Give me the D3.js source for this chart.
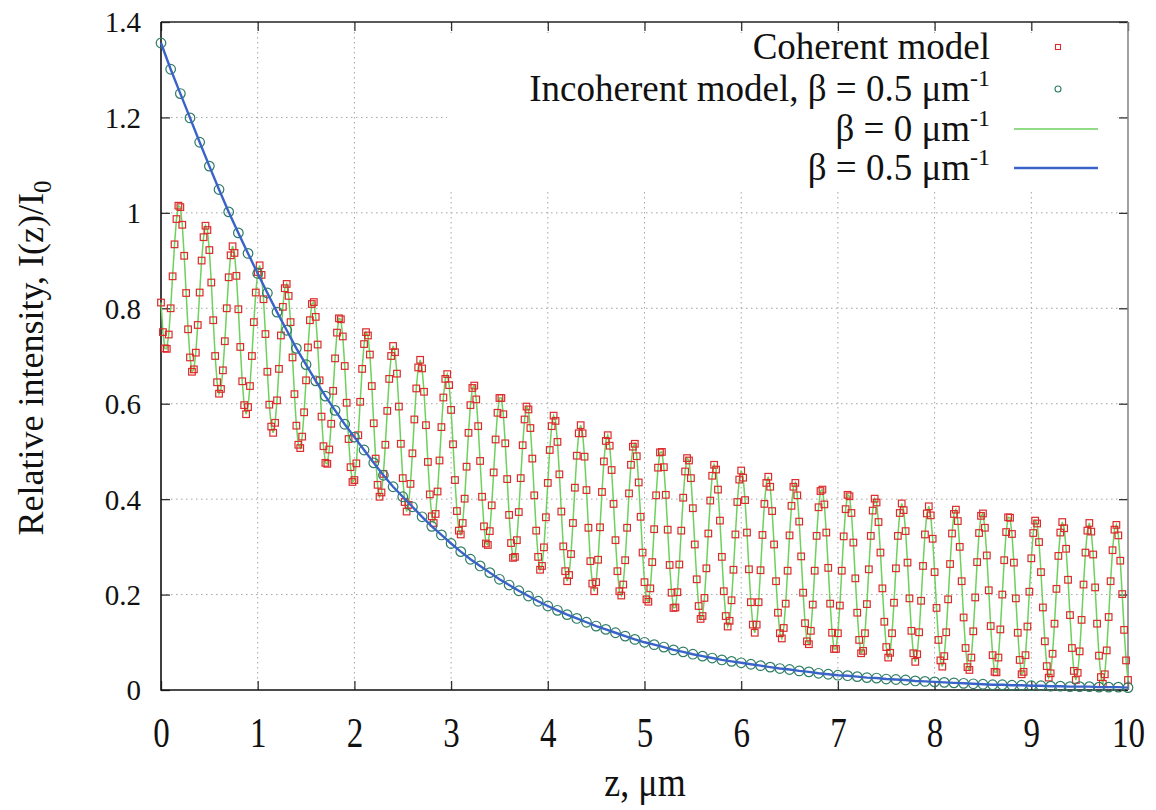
<!DOCTYPE html>
<html>
<head>
<meta charset="utf-8">
<script src="https://cdn.jsdelivr.net/npm/d3@7"></script>
<style>
  body { margin: 0; background: #fff; }
  svg { display: block; }
</style>
</head>
<body>
<svg id="chart" width="1156" height="810"></svg>
<script>
// Relative intensity vs depth: coherent (oscillating) and incoherent model

const X_TICKS = [0, 1, 2, 3, 4, 5, 6, 7, 8, 9, 10];
const Y_TICKS = [0, 0.2, 0.4, 0.6, 0.8, 1, 1.2, 1.4];

// coherent model, sampled every 0.02 um from z = 0 to z = 10
const COHERENT_DZ = 0.02;
const coherent = [
  0.812,0.750,0.716,
  0.715,0.745,0.800,0.867,0.934,0.987,1.015,1.012,0.975,0.910,0.832,0.756,0.697,0.667,
  0.672,0.707,0.765,0.833,0.900,0.949,0.973,0.964,0.922,0.854,0.775,0.700,0.645,0.621,
  0.631,0.670,0.731,0.800,0.865,0.911,0.930,0.916,0.868,0.798,0.719,0.647,0.597,0.578,
  0.593,0.637,0.700,0.771,0.833,0.876,0.890,0.870,0.819,0.746,0.667,0.598,0.552,
  0.539,0.560,0.607,0.673,0.743,0.803,0.842,0.851,0.826,0.771,0.697,0.620,0.554,0.514,
  0.507,0.531,0.582,0.649,0.718,0.775,0.809,0.813,0.782,0.724,0.649,0.573,0.511,0.476,
  0.474,0.504,0.558,0.627,0.695,0.749,0.779,0.777,0.741,0.679,0.602,0.526,0.467,0.436,
  0.440,0.475,0.534,0.604,0.673,0.725,0.750,0.743,0.703,0.637,0.559,0.485,0.430,0.405,
  0.414,0.453,0.514,0.585,0.652,0.700,0.721,0.708,0.663,0.594,0.516,0.444,0.394,0.374,
  0.388,0.432,0.496,0.567,0.632,0.676,0.692,0.674,0.625,0.555,0.478,0.410,0.364,
  0.350,0.369,0.416,0.481,0.551,0.613,0.652,0.662,0.639,0.587,0.515,0.440,0.375,0.334,
  0.326,0.350,0.401,0.468,0.539,0.597,0.633,0.638,0.609,0.553,0.480,0.405,0.343,0.307,
  0.304,0.333,0.387,0.456,0.525,0.581,0.612,0.612,0.578,0.517,0.442,0.367,0.308,0.277,
  0.279,0.314,0.373,0.444,0.513,0.567,0.594,0.588,0.549,0.485,0.408,0.334,0.279,0.252,
  0.260,0.299,0.362,0.434,0.503,0.553,0.575,0.564,0.520,0.452,0.374,0.301,0.249,0.228,
  0.241,0.285,0.350,0.424,0.491,0.538,0.555,0.538,0.489,0.419,0.340,0.270,0.223,
  0.207,0.226,0.273,0.341,0.415,0.479,0.522,0.534,0.512,0.461,0.390,0.314,0.249,0.207,
  0.198,0.221,0.272,0.340,0.412,0.472,0.510,0.516,0.490,0.435,0.363,0.288,0.226,0.190,
  0.185,0.213,0.268,0.337,0.408,0.466,0.498,0.499,0.467,0.409,0.336,0.262,0.204,0.172,
  0.173,0.205,0.263,0.334,0.403,0.458,0.486,0.481,0.444,0.381,0.305,0.232,0.176,0.149,
  0.155,0.193,0.255,0.328,0.397,0.449,0.472,0.462,0.420,0.355,0.279,0.207,0.155,0.133,
  0.145,0.188,0.252,0.326,0.394,0.441,0.460,0.445,0.398,0.330,0.253,0.184,0.137,
  0.120,0.137,0.184,0.251,0.325,0.390,0.434,0.447,0.426,0.375,0.305,0.228,0.162,0.119,
  0.108,0.130,0.181,0.250,0.324,0.386,0.426,0.434,0.408,0.353,0.280,0.204,0.140,0.102,
  0.096,0.124,0.179,0.250,0.323,0.383,0.417,0.420,0.389,0.330,0.256,0.181,0.120,0.086,
  0.086,0.119,0.177,0.250,0.322,0.379,0.409,0.406,0.371,0.309,0.234,0.162,0.105,0.077,
  0.082,0.119,0.180,0.253,0.323,0.376,0.401,0.393,0.352,0.288,0.213,0.143,0.090,0.068,
  0.078,0.119,0.183,0.255,0.323,0.371,0.391,0.377,0.333,0.267,0.192,0.124,0.077,0.059,
  0.075,0.121,0.187,0.260,0.326,0.370,0.385,0.366,0.317,0.247,0.172,0.105,0.062,
  0.049,0.071,0.121,0.190,0.264,0.328,0.369,0.378,0.354,0.300,0.228,0.152,0.088,0.048,
  0.042,0.068,0.123,0.194,0.268,0.329,0.365,0.370,0.340,0.282,0.209,0.134,0.073,0.038,
  0.037,0.068,0.127,0.200,0.272,0.331,0.362,0.361,0.327,0.267,0.192,0.120,0.063,0.033,
  0.038,0.073,0.133,0.206,0.276,0.329,0.355,0.349,0.310,0.247,0.173,0.102,0.050,0.026,
  0.035,0.076,0.139,0.212,0.281,0.330,0.352,0.339,0.296,0.231,0.157,0.088,0.040,0.021,
  0.036,0.081,0.147,0.221,0.288,0.334,0.350,0.332,0.284,0.215,0.139,0.072,0.027,
  0.013,0.033,0.083,0.153,0.228,0.293,0.336,0.346,0.324,0.271,0.201,0.126,0.062,0.021
];

// incoherent model (beta = 0.5 um^-1), sampled every 0.1 um
const INCOHERENT_DZ = 0.1;
const incoherent = [
  1.356,1.301,1.250,1.199,1.148,1.098,1.049,1.002,0.958,0.915,
  0.873,0.832,0.792,0.754,0.716,0.682,0.648,0.616,0.586,0.557,
  0.530,0.503,0.476,0.450,0.426,0.405,0.384,0.363,0.343,0.325,
  0.307,0.290,0.274,0.260,0.246,0.232,0.220,0.208,0.197,0.186,
  0.176,0.167,0.158,0.150,0.142,0.134,0.127,0.120,0.113,0.106,
  0.100,0.095,0.090,0.084,0.080,0.075,0.071,0.067,0.063,0.060,
  0.057,0.054,0.051,0.048,0.045,0.043,0.040,0.038,0.035,0.033,
  0.031,0.030,0.028,0.026,0.025,0.023,0.022,0.021,0.019,0.018,
  0.017,0.016,0.015,0.014,0.013,0.012,0.011,0.011,0.010,0.010,
  0.009,0.009,0.008,0.008,0.007,0.007,0.007,0.006,0.006,0.006,
  0.005
];

const LEGEND = [
  { label: 'Coherent model', sup: '', kind: 'square' },
  { label: 'Incoherent model, \u03b2 = 0.5 \u03bcm', sup: '-1', kind: 'circle' },
  { label: '\u03b2 = 0 \u03bcm', sup: '-1', kind: 'green' },
  { label: '\u03b2 = 0.5 \u03bcm', sup: '-1', kind: 'blue' }
];

const SERIF = "'Liberation Serif', 'DejaVu Serif', serif";
const RED = '#dc2b2b', TEAL = '#2f7d62', GREEN = '#6fd05e', BLUE = '#3a63c9';

const plot = { left: 161, right: 1128, top: 22, bottom: 690 };

const x = d3.scaleLinear().domain([0, 10]).range([plot.left, plot.right]);
const y = d3.scaleLinear().domain([0, 1.4]).range([plot.bottom, plot.top]);

const svg = d3.select('#chart');

// grid
const grid = svg.append('g').attr('class', 'grid')
    .attr('stroke', '#a4a4a4').attr('stroke-width', 1).attr('stroke-dasharray', '1.5,3.5');
for (const t of X_TICKS.slice(1, -1)) {
    grid.append('line').attr('x1', x(t)).attr('x2', x(t)).attr('y1', plot.top).attr('y2', plot.bottom);
}
for (const t of Y_TICKS.slice(1, -1)) {
    grid.append('line').attr('x1', plot.left).attr('x2', plot.right).attr('y1', y(t)).attr('y2', y(t));
}

// opaque key box hides the grid behind it
svg.append('rect').attr('x', 447).attr('y', 33).attr('width', 670).attr('height', 157).attr('fill', '#fff');

// axes (ticks pointing inward)
const axisB = svg.append('g').attr('transform', `translate(0,${plot.bottom})`)
    .call(d3.axisBottom(x).tickValues(X_TICKS).tickSize(-9).tickFormat(d3.format('d')));
const axisT = svg.append('g').attr('transform', `translate(0,${plot.top})`)
    .call(d3.axisTop(x).tickValues(X_TICKS).tickSize(-9).tickFormat(''));
const axisL = svg.append('g').attr('transform', `translate(${plot.left},0)`)
    .call(d3.axisLeft(y).tickValues(Y_TICKS).tickSize(-9).tickPadding(20).tickFormat(d => String(+d.toFixed(1))));
const axisR = svg.append('g').attr('transform', `translate(${plot.right},0)`)
    .call(d3.axisRight(y).tickValues(Y_TICKS).tickSize(-9).tickFormat(''));

for (const a of [axisB, axisT, axisL, axisR]) {
    a.select('.domain').remove();
    a.selectAll('.tick line').attr('stroke', '#333').attr('stroke-width', 1.3);
}
// bottom tick labels: tall, narrow lettering as in the source figure
axisB.selectAll('.tick text')
    .attr('font-family', SERIF).attr('font-size', 33).attr('fill', '#111')
    .attr('dy', null).attr('y', 0)
    .attr('transform', 'translate(0,57) scale(1,1.28)');
axisL.selectAll('.tick text')
    .attr('font-family', SERIF).attr('font-size', 29).attr('fill', '#111')
    .attr('dy', '0.34em');

// border
svg.append('path')
    .attr('d', `M${plot.left},${plot.top} H${plot.right}`)
    .attr('stroke', '#222').attr('stroke-width', 1.3).attr('fill', 'none');
svg.append('path')
    .attr('d', `M${plot.left},${plot.top} V${plot.bottom} H${plot.right}`)
    .attr('stroke', '#111').attr('stroke-width', 1.6).attr('fill', 'none');
svg.append('path')
    .attr('d', `M${plot.right},${plot.top} V${plot.bottom}`)
    .attr('stroke', '#888').attr('stroke-width', 1.6).attr('fill', 'none');

// series
const cohPts = coherent.map((v, i) => [i * COHERENT_DZ, v]);
const incPts = incoherent.map((v, i) => [i * INCOHERENT_DZ, v]);
const line = d3.line().x(d => x(d[0])).y(d => y(d[1]));

svg.append('path').attr('d', line(cohPts))
    .attr('fill', 'none').attr('stroke', GREEN).attr('stroke-width', 1.5);

svg.append('g').selectAll('rect').data(cohPts).join('rect')
    .attr('x', d => x(d[0]) - 3.3).attr('y', d => y(d[1]) - 3.3)
    .attr('width', 6.6).attr('height', 6.6)
    .attr('fill', 'none').attr('stroke', RED).attr('stroke-width', 1.2);

svg.append('g').selectAll('circle').data(incPts).join('circle')
    .attr('cx', d => x(d[0])).attr('cy', d => y(d[1])).attr('r', 4.8)
    .attr('fill', 'none').attr('stroke', TEAL).attr('stroke-width', 1.2);

svg.append('path').attr('d', line(incPts))
    .attr('fill', 'none').attr('stroke', BLUE).attr('stroke-width', 2.4);

// legend
const legendRowY = [47, 89, 129, 168];
const legend = svg.append('g').attr('font-family', SERIF).attr('font-size', 37).attr('fill', '#111');
LEGEND.forEach((item, i) => {
    const cy = legendRowY[i];
    const t = legend.append('text').attr('x', 990).attr('y', cy + 12).attr('text-anchor', 'end');
    t.append('tspan').text(item.label);
    if (item.sup) t.append('tspan').attr('dy', -15).attr('font-size', 24).text(item.sup);
    if (item.kind === 'square') {
        legend.append('rect').attr('x', 1055.5).attr('y', cy - 2.5).attr('width', 5).attr('height', 5)
            .attr('fill', 'none').attr('stroke', RED).attr('stroke-width', 1.1);
    } else if (item.kind === 'circle') {
        legend.append('circle').attr('cx', 1058).attr('cy', cy).attr('r', 3)
            .attr('fill', 'none').attr('stroke', TEAL).attr('stroke-width', 1.1);
    } else {
        legend.append('line').attr('x1', 1014).attr('x2', 1098).attr('y1', cy).attr('y2', cy)
            .attr('stroke', item.kind === 'green' ? GREEN : BLUE)
            .attr('stroke-width', item.kind === 'green' ? 1.5 : 2.4);
    }
});

// axis titles
const yTitle = svg.append('text')
    .attr('transform', 'translate(43,358) rotate(-90)')
    .attr('text-anchor', 'middle')
    .attr('font-family', SERIF).attr('font-size', 36).attr('fill', '#111');
yTitle.append('tspan').text('Relative intensity, I(z)/I');
yTitle.append('tspan').attr('dy', 8).attr('font-size', 25).text('0');

svg.append('text')
    .attr('transform', 'translate(645,796) scale(1,1.2)')
    .attr('text-anchor', 'middle')
    .attr('font-family', SERIF).attr('font-size', 36).attr('fill', '#111')
    .text('z, \u03bcm');
</script>
</body>
</html>
